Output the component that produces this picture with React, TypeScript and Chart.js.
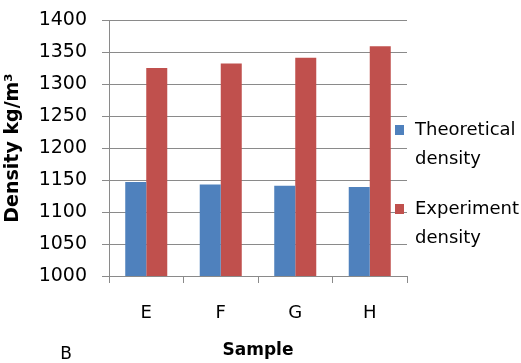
import React, { useEffect, useRef } from "react";
import { Chart, registerables } from "chart.js";

Chart.register(...registerables);

// Samples and measured densities (kg/m³)
const categories = ["E", "F", "G", "H"];
const theoreticalDensity = [1147, 1143, 1141, 1139];
const experimentDensity = [1325, 1332, 1341, 1359];
const seriesNames = ["Theoretical density", "Experiment density"];
const seriesColors = ["#4F81BD", "#C0504D"];
const yMin = 1000;
const yMax = 1400;
const yStep = 50;
const panelLetter = "B";

const FONT = "'DejaVu Sans', sans-serif";
const GRID = "#8a8a8a";

// Side legend with wrapped two-line labels, plus the panel letter
const sideLegend = {
  id: "sideLegend",
  afterDraw(chart: Chart) {
    const { ctx, chartArea } = chart;
    ctx.save();
    ctx.font = `18px ${FONT}`;
    ctx.textBaseline = "middle";
    ctx.textAlign = "left";
    const sqX = chartArea.right - 12;
    const textX = chartArea.right + 8;
    const groupTops = [130, 209];
    seriesNames.forEach((name, i) => {
      const y0 = groupTops[i];
      ctx.fillStyle = seriesColors[i];
      ctx.fillRect(sqX, y0 - 5, 9, 10);
      ctx.fillStyle = "#000";
      const words = name.split(" ");
      words.forEach((w, j) => ctx.fillText(w, textX, y0 + j * 29));
    });
    ctx.font = `17px ${FONT}`;
    ctx.textAlign = "center";
    ctx.fillText(panelLetter, 66, 355);
    ctx.restore();
  },
};

export default function App() {
  const ref = useRef<HTMLCanvasElement | null>(null);

  useEffect(() => {
    if (!ref.current) return;
    const chart = new Chart(ref.current, {
      type: "bar",
      data: {
        labels: categories,
        datasets: [
          {
            label: seriesNames[0],
            data: theoreticalDensity,
            backgroundColor: seriesColors[0],
            categoryPercentage: 0.564,
            barPercentage: 1,
          },
          {
            label: seriesNames[1],
            data: experimentDensity,
            backgroundColor: seriesColors[1],
            categoryPercentage: 0.564,
            barPercentage: 1,
          },
        ],
      },
      options: {
        animation: false,
        responsive: false,
        layout: { padding: { top: 20, right: 114, left: 0, bottom: 0 } },
        plugins: {
          legend: { display: false },
          tooltip: { enabled: false },
        },
        scales: {
          x: {
            grid: {
              offset: true,
              drawOnChartArea: false,
              tickLength: 7,
              color: GRID,
            },
            border: { color: GRID },
            ticks: {
              color: "#000",
              font: { family: FONT, size: 18 },
              padding: 20,
            },
            title: {
              display: true,
              text: "Sample",
              color: "#000",
              font: { family: FONT, size: 17, weight: "bold" },
              padding: { top: 0, bottom: 2 },
            },
            afterFit(scale: any) {
              scale.height = 87;
            },
          },
          y: {
            min: yMin,
            max: yMax,
            grid: { color: GRID, tickLength: 7 },
            border: { color: GRID },
            ticks: {
              stepSize: yStep,
              color: "#000",
              font: { family: FONT, size: 19 },
              padding: 15,
              callback: (v: any) => String(v),
            },
            title: {
              display: true,
              text: "Density kg/m³",
              color: "#000",
              font: { family: FONT, size: 19, weight: "bold" },
              padding: { top: 2, bottom: 0 },
            },
            afterFit(scale: any) {
              scale.width = 109;
              scale.paddingTop = 0;
              scale.paddingBottom = 0;
            },
          },
        },
      },
      plugins: [sideLegend],
    });
    return () => chart.destroy();
  }, []);

  return (
    <div style={{ position: "absolute", left: 0, top: 0, width: 521, height: 363, background: "#fff" }}>
      <canvas ref={ref} width={521} height={363} style={{ display: "block" }} />
    </div>
  );
}
